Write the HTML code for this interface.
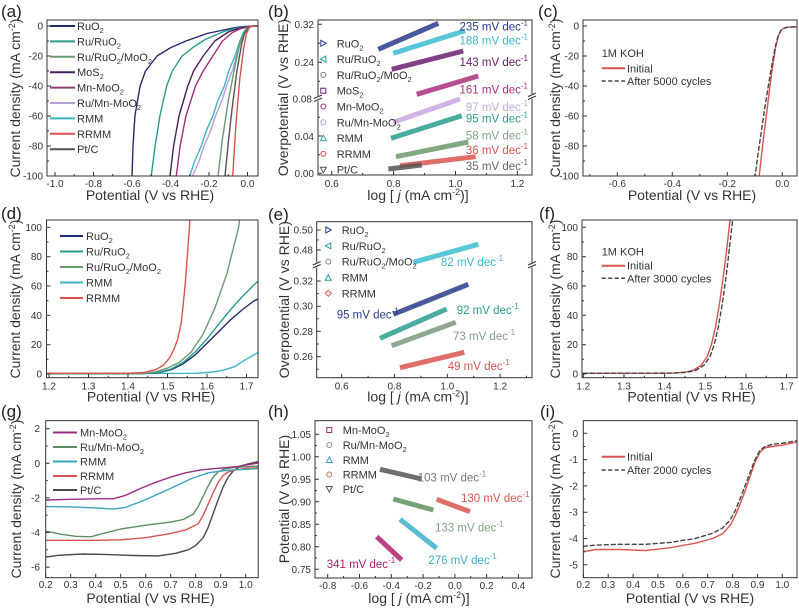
<!DOCTYPE html>
<html><head><meta charset="utf-8"><style>
html,body{margin:0;padding:0;background:#fff;}
svg{display:block;font-family:"Liberation Sans",Arial,sans-serif;}
.tk{font-size:10px;fill:#333;}
.ti{font-size:14px;fill:#333;}
.lg{font-size:11px;fill:#333;}
.pl{font-size:17px;fill:#222;}
.an{font-size:11.5px;}
.fr{fill:none;stroke:#333;stroke-width:1;}
.tks{fill:none;stroke:#333;stroke-width:1;}
.c{fill:none;stroke-width:1.4;stroke-linejoin:round;stroke-linecap:round;}
.m{fill:none;stroke-width:5;stroke-linecap:butt;opacity:0.85;}
</style></head><body>
<svg width="799" height="609" viewBox="0 0 799 609" xmlns="http://www.w3.org/2000/svg">
<defs>
<clipPath id="ca"><rect x="47" y="20" width="211" height="156"/></clipPath>
<clipPath id="cc"><rect x="583" y="20" width="214" height="156"/></clipPath>
<clipPath id="cd"><rect x="46.5" y="220" width="211.5" height="157.7"/></clipPath>
<clipPath id="cf"><rect x="582" y="220" width="215" height="157.7"/></clipPath>
<clipPath id="cg"><rect x="45.7" y="420.7" width="212.5" height="157"/></clipPath>
<clipPath id="ci"><rect x="583.3" y="420.7" width="213.7" height="157"/></clipPath>
</defs>
<rect width="799" height="609" fill="#fff"/>

<!-- ================= (a) ================= -->
<text class="pl" x="1" y="17">(a)</text>
<g clip-path="url(#ca)">
<polyline class="c" stroke="#b89fd8" stroke-width="1.7" points="258,26 253.3,26 247.5,27.5 244.5,32 241,41 236.5,56 232.3,71 226.5,86 221.8,101 215.5,116 210.6,131 204,146 199.1,161 192.5,176"/>
<polyline class="c" stroke="#3db3c4" stroke-width="1.7" points="258,26 253.3,26 247.5,27.5 243.65,32 239.8,41 235,56 228.7,71 224.4,86 217.7,101 212.85,116 206.2,131 201.3,146 194.7,161 189.75,176"/>
<polyline class="c" stroke="#1f2d6b" points="258,26 257.1,26 247.5,26.3 237.9,27.2 228.3,29 207.1,33.5 185.9,41 170.5,47.75 157,56 145.5,71 140.1,86 134.9,116 133,146 132,176 131.8,180"/>
<polyline class="c" stroke="#2a9a8c" points="258,26 253.3,26 247.5,26.75 236,28.25 224.4,31.25 205.2,39.5 193.6,47 182.1,56 172.4,71 166.65,86 159.9,116 155.1,146 151.25,176 151,180"/>
<polyline class="c" stroke="#4a1d5c" points="258,26 253.3,26 247.5,26.75 237.9,28.7 228.25,32 214.8,41 203.2,56 193.6,71 187.8,86 179,116 173.6,146 170,176 169.8,180"/>
<polyline class="c" stroke="#a0307c" points="258,26 253.3,26 247.5,27.05 239.8,29 232.1,32.75 222.5,41 212.85,56 203.2,71 195.5,86 185.9,116 180.1,146 176.3,176 176,180"/>
<polyline class="c" stroke="#6b9a6e" points="258,26 253.3,26 247.5,27.5 243.65,33.5 239.8,44 234,71 228.25,101 222.5,138.5 218,176 217.5,180"/>
<polyline class="c" stroke="#555555" points="258,26 253.3,26 248.5,27.5 244.6,33.5 241.7,44 236.9,71 232.1,108.5 228.25,143 225,176 224.7,180"/>
<polyline class="c" stroke="#d9534f" points="258,26 253.3,26 249.4,27.5 246.5,33.5 243.65,48.5 239.8,78.5 236,123.5 232.7,176 232.5,180"/>
</g>
<rect class="fr" x="47" y="20" width="211" height="156"/>
<path class="tks" d="M55 176v-4M93.5 176v-4M132 176v-4M170.5 176v-4M209 176v-4M247.5 176v-4M74.25 176v-2M112.75 176v-2M151.25 176v-2M189.75 176v-2M228.25 176v-2M47 26h4M47 56h4M47 86h4M47 116h4M47 146h4M47 41h2M47 71h2M47 101h2M47 131h2M47 161h2"/>
<g class="tk" text-anchor="middle">
<text x="55" y="187">-1.0</text><text x="93.5" y="187">-0.8</text><text x="132" y="187">-0.6</text><text x="170.5" y="187">-0.4</text><text x="209" y="187">-0.2</text><text x="247.5" y="187">0.0</text>
</g>
<g class="tk" text-anchor="end">
<text x="43" y="29.5">0</text><text x="43" y="59.5">-20</text><text x="43" y="89.5">-40</text><text x="43" y="119.5">-60</text><text x="43" y="149.5">-80</text><text x="43" y="179.5">-100</text>
</g>
<text class="ti" text-anchor="middle" x="150" y="200">Potential (V vs RHE)</text>
<text class="ti" text-anchor="middle" transform="translate(20,98) rotate(-90)">Current density (mA cm<tspan dy="-5" font-size="9">-2</tspan><tspan dy="5">)</tspan></text>
<g stroke-width="2">
<line x1="50" y1="26" x2="75" y2="26" stroke="#1f2d6b"/>
<line x1="50" y1="41.4" x2="75" y2="41.4" stroke="#2a9a8c"/>
<line x1="50" y1="56.8" x2="75" y2="56.8" stroke="#6b9a6e"/>
<line x1="50" y1="72.2" x2="75" y2="72.2" stroke="#4a1d5c"/>
<line x1="50" y1="87.6" x2="75" y2="87.6" stroke="#8e3a73"/>
<line x1="50" y1="103" x2="75" y2="103" stroke="#b89fd8"/>
<line x1="50" y1="118.4" x2="75" y2="118.4" stroke="#3db3c4"/>
<line x1="50" y1="133.8" x2="75" y2="133.8" stroke="#d9534f"/>
<line x1="50" y1="149.2" x2="75" y2="149.2" stroke="#555555"/>
</g>
<g class="lg">
<text x="77" y="30">RuO<tspan dy="3" font-size="7.5">2</tspan></text>
<text x="77" y="45.4">Ru/RuO<tspan dy="3" font-size="7.5">2</tspan></text>
<text x="77" y="60.8">Ru/RuO<tspan dy="3" font-size="7.5">2</tspan><tspan dy="-3">/MoO</tspan><tspan dy="3" font-size="7.5">2</tspan></text>
<text x="77" y="76.2">MoS<tspan dy="3" font-size="7.5">2</tspan></text>
<text x="77" y="91.6">Mn-MoO<tspan dy="3" font-size="7.5">2</tspan></text>
<text x="77" y="107">Ru/Mn-MoO<tspan dy="3" font-size="7.5">2</tspan></text>
<text x="77" y="122.4">RMM</text>
<text x="77" y="137.8">RRMM</text>
<text x="77" y="153.2">Pt/C</text>
</g>

<!-- ================= (b) ================= -->
<text class="pl" x="268" y="17">(b)</text>
<g>
<line class="m" stroke="#2a3c8a" x1="378.3" y1="49.3" x2="438.3" y2="23.3"/>
<line class="m" stroke="#3cbcd0" x1="393.3" y1="53.3" x2="465" y2="30.7"/>
<line class="m" stroke="#6a2070" x1="391.7" y1="69.3" x2="463.3" y2="51"/>
<line class="m" stroke="#a8307e" x1="416.7" y1="94.3" x2="478.3" y2="76"/>
<line class="m" stroke="#c9a6e0" x1="393.3" y1="122.3" x2="460" y2="99"/>
<line class="m" stroke="#2a9d8f" x1="391" y1="138.3" x2="461.7" y2="115.7"/>
<line class="m" stroke="#6b9a6b" x1="396" y1="156.7" x2="468.3" y2="142"/>
<line class="m" stroke="#d9544f" x1="400" y1="165.7" x2="475.7" y2="156.7"/>
<line class="m" stroke="#555" x1="388.3" y1="169" x2="421.7" y2="165"/>
</g>
<rect class="fr" x="318" y="20" width="214" height="155"/>
<rect x="314" y="96" width="8" height="5" fill="#fff"/>
<rect x="528" y="94" width="8" height="5" fill="#fff"/>
<path class="tks" d="M314 98.5L322 95M314 101.5L322 98M528 96.5L536 93M528 99.5L536 96"/>
<path class="tks" d="M331.7 175v-4M393.6 175v-4M455.5 175v-4M517.4 175v-4M362.65 175v-2M424.55 175v-2M486.45 175v-2M318 24.3h4M318 62.3h4M318 136h4M318 173.3h4M318 43.3h2M318 81.3h2M318 117.3h2M318 154.7h2"/>
<g class="tk" text-anchor="middle">
<text x="331.7" y="187">0.6</text><text x="393.6" y="187">0.8</text><text x="455.5" y="187">1.0</text><text x="517.4" y="187">1.2</text>
</g>
<g class="tk" text-anchor="end">
<text x="314" y="28">0.32</text><text x="314" y="66">0.24</text><text x="312" y="102.5">0.08</text><text x="314" y="140">0.04</text><text x="314" y="177">0.00</text>
</g>
<text class="ti" text-anchor="middle" x="418" y="200">log [ <tspan font-style="italic">j</tspan> (mA cm<tspan dy="-5" font-size="9">-2</tspan><tspan dy="5">)]</tspan></text>
<text class="ti" text-anchor="middle" transform="translate(288,97.5) rotate(-90)">Overpotential (V vs RHE)</text>
<g fill="none" stroke-width="1">
<polygon points="320.8,40.3 326.3,43.3 320.8,46.3" stroke="#2a3c8a"/>
<polygon points="325.8,56.1 320.3,59.1 325.8,62.1" stroke="#2a9d8f"/>
<circle cx="323.3" cy="74.9" r="2.5" stroke="#777"/>
<rect x="320.8" y="88.2" width="5" height="5" stroke="#6a2070"/>
<circle cx="323.3" cy="106.5" r="2.5" stroke="#a8307e"/>
<circle cx="323.3" cy="122.3" r="2.5" stroke="#b8a0d8"/>
<polygon points="323.3,135.1 326.3,140.6 320.3,140.6" stroke="#3aaab8"/>
<circle cx="323.3" cy="153.9" r="2.5" stroke="#d9544f"/>
<polygon points="323.3,172.7 326.3,167.2 320.3,167.2" stroke="#555"/>
</g>
<g class="lg">
<text x="336.7" y="47.3">RuO<tspan dy="3" font-size="7.5">2</tspan></text>
<text x="336.7" y="63.1">Ru/RuO<tspan dy="3" font-size="7.5">2</tspan></text>
<text x="336.7" y="78.9">Ru/RuO<tspan dy="3" font-size="7.5">2</tspan><tspan dy="-3">/MoO</tspan><tspan dy="3" font-size="7.5">2</tspan></text>
<text x="336.7" y="94.7">MoS<tspan dy="3" font-size="7.5">2</tspan></text>
<text x="336.7" y="110.5">Mn-MoO<tspan dy="3" font-size="7.5">2</tspan></text>
<text x="336.7" y="126.3">Ru/Mn-MoO<tspan dy="3" font-size="7.5">2</tspan></text>
<text x="336.7" y="142.1">RMM</text>
<text x="336.7" y="157.9">RRMM</text>
<text x="336.7" y="173.7">Pt/C</text>
</g>
<g class="an" text-anchor="end">
<text x="528" y="30.5" fill="#2a3c8a">235 mV dec<tspan dy="-5" font-size="8">-1</tspan></text>
<text x="528" y="44.5" fill="#3cb8cc">188 mV dec<tspan dy="-5" font-size="8">-1</tspan></text>
<text x="528" y="66" fill="#6a2070">143 mV dec<tspan dy="-5" font-size="8">-1</tspan></text>
<text x="528" y="93.5" fill="#a8307e">161 mV dec<tspan dy="-5" font-size="8">-1</tspan></text>
<text x="528" y="111" fill="#c4a8e0">97 mV dec<tspan dy="-5" font-size="8">-1</tspan></text>
<text x="528" y="122.5" fill="#2a9d8f">95 mV dec<tspan dy="-5" font-size="8">-1</tspan></text>
<text x="528" y="139.5" fill="#849e84">58 mV dec<tspan dy="-5" font-size="8">-1</tspan></text>
<text x="528" y="154" fill="#d9544f">36 mV dec<tspan dy="-5" font-size="8">-1</tspan></text>
<text x="528" y="170" fill="#666">35 mV dec<tspan dy="-5" font-size="8">-1</tspan></text>
</g>

<!-- ================= (c) ================= -->
<text class="pl" x="538" y="17">(c)</text>
<g clip-path="url(#cc)">
<polyline class="c" stroke="#d9534f" stroke-width="1.8" points="759.2,178 759.2,176 761.7,153.5 764.4,131 767.2,108.5 769.9,86 772.7,66.5 775.4,48.5 778.2,36.5 780.9,30.5 783.7,28.25 787.8,27.2 796.9,26.75"/>
<polyline class="c" stroke="#444" stroke-dasharray="4,3" points="755.1,178 755.1,176 758.1,153.5 761.4,131 764.7,108.5 768.3,86 771.6,66.5 774.9,48.5 777.9,36.5 780.9,30.5 783.7,28.25 787.8,27.2 796.9,26.75"/>
</g>
<rect class="fr" x="583" y="20" width="214" height="156"/>
<path class="tks" d="M617.3 176v-4M672.3 176v-4M727.3 176v-4M782.3 176v-4M589.8 176v-2M644.8 176v-2M699.8 176v-2M754.8 176v-2M583 26h4M583 56h4M583 86h4M583 116h4M583 146h4M583 41h2M583 71h2M583 101h2M583 131h2M583 161h2"/>
<g class="tk" text-anchor="middle">
<text x="617.3" y="187">-0.6</text><text x="672.3" y="187">-0.4</text><text x="727.3" y="187">-0.2</text><text x="782.3" y="187">0.0</text>
</g>
<g class="tk" text-anchor="end">
<text x="579" y="29.5">0</text><text x="579" y="59.5">-20</text><text x="579" y="89.5">-40</text><text x="579" y="119.5">-60</text><text x="579" y="149.5">-80</text><text x="579" y="179.5">-100</text>
</g>
<text class="ti" text-anchor="middle" x="692" y="200">Potential (V vs RHE)</text>
<text class="ti" text-anchor="middle" transform="translate(560,98) rotate(-90)">Current density (mA cm<tspan dy="-5" font-size="9">-2</tspan><tspan dy="5">)</tspan></text>
<text class="lg" x="601.7" y="57">1M KOH</text>
<line x1="601.7" y1="68.3" x2="625" y2="68.3" stroke="#d9534f" stroke-width="2"/>
<text class="lg" x="627" y="72.3">Initial</text>
<line x1="601.7" y1="81" x2="625" y2="81" stroke="#444" stroke-width="1.5" stroke-dasharray="4,2.5"/>
<text class="lg" x="627" y="85">After 5000 cycles</text>

<!-- ================= (d) ================= -->
<text class="pl" x="1" y="219">(d)</text>
<g clip-path="url(#cd)">
<polyline class="c" stroke="#3db3c4" points="45,373.6 195.15,373.3 210.95,372.2 222.8,370.3 234.65,366.7 242.55,361.5 257.6,352.7"/>
<polyline class="c" stroke="#1f2d6b" stroke-width="1.6" points="45,373.7 143.8,373.6 159.6,372.5 171.45,369.6 183.3,363.7 195.15,354.9 207,343.2 218.85,331.5 230.7,319.7 242.55,309.5 254.4,300.6 257.5,299.3"/>
<polyline class="c" stroke="#2a9a8c" stroke-width="1.6" points="45,373.7 143.8,373.6 159.6,372.2 171.45,368.9 183.3,362.3 195.15,352 207,338.8 218.85,324.1 230.7,309.5 242.55,296.2 254.4,284.5 257.6,281.6"/>
<polyline class="c" stroke="#6b9a6e" points="45,373.6 143.8,373.3 155.65,371.8 167.5,368.1 179.35,362.3 191.2,352 203.05,334.4 214.9,308 226.75,274.2 238.6,227.3 239.8,218"/>
<polyline class="c" stroke="#d9534f" stroke-width="1.6" points="45,373.3 128,373.3 143.8,372.5 155.65,369.6 163.55,365.2 169.5,357.9 173.4,350.5 177.4,340.3 181.3,322.7 183.3,303.6 185.3,283 187.3,256.6 189.2,230.2 190,218"/>
</g>
<rect class="fr" x="46.5" y="220" width="211.5" height="157.7"/>
<path class="tks" d="M49 377.7v-4M88.5 377.7v-4M128 377.7v-4M167.5 377.7v-4M207 377.7v-4M246.5 377.7v-4M68.75 377.7v-2M108.25 377.7v-2M147.75 377.7v-2M187.25 377.7v-2M226.75 377.7v-2M46.5 374h4M46.5 344.7h4M46.5 315.3h4M46.5 286h4M46.5 256.7h4M46.5 227.3h4M46.5 359.3h2M46.5 330h2M46.5 300.7h2M46.5 271.3h2M46.5 242h2"/>
<g class="tk" text-anchor="middle">
<text x="49" y="389.5">1.2</text><text x="88.5" y="389.5">1.3</text><text x="128" y="389.5">1.4</text><text x="167.5" y="389.5">1.5</text><text x="207" y="389.5">1.6</text><text x="246.5" y="389.5">1.7</text>
</g>
<g class="tk" text-anchor="end">
<text x="42" y="377.5">0</text><text x="42" y="348.2">20</text><text x="42" y="318.8">40</text><text x="42" y="289.5">60</text><text x="42" y="260.2">80</text><text x="42" y="230.8">100</text>
</g>
<text class="ti" text-anchor="middle" x="151" y="401.5">Potential (V vs RHE)</text>
<text class="ti" text-anchor="middle" transform="translate(20,299) rotate(-90)">Current density (mA cm<tspan dy="-5" font-size="9">-2</tspan><tspan dy="5">)</tspan></text>
<g stroke-width="2">
<line x1="60" y1="236" x2="83" y2="236" stroke="#1f2d6b"/>
<line x1="60" y1="251.5" x2="83" y2="251.5" stroke="#2a9a8c"/>
<line x1="60" y1="267" x2="83" y2="267" stroke="#6b9a6e"/>
<line x1="60" y1="282.5" x2="83" y2="282.5" stroke="#3db3c4"/>
<line x1="60" y1="298" x2="83" y2="298" stroke="#d9534f"/>
</g>
<g class="lg">
<text x="86" y="240">RuO<tspan dy="3" font-size="7.5">2</tspan></text>
<text x="86" y="255.5">Ru/RuO<tspan dy="3" font-size="7.5">2</tspan></text>
<text x="86" y="271">Ru/RuO<tspan dy="3" font-size="7.5">2</tspan><tspan dy="-3">/MoO</tspan><tspan dy="3" font-size="7.5">2</tspan></text>
<text x="86" y="286.5">RMM</text>
<text x="86" y="302">RRMM</text>
</g>

<!-- ================= (e) ================= -->
<text class="pl" x="268" y="220">(e)</text>
<g>
<line class="m" stroke="#3cbcd0" x1="413.3" y1="262.3" x2="478.3" y2="244.3"/>
<line class="m" stroke="#2a3c8a" x1="393.3" y1="314.3" x2="468.3" y2="284.3"/>
<line class="m" stroke="#2a9d8f" x1="380" y1="338.3" x2="446.7" y2="309"/>
<line class="m" stroke="#7a9a7a" x1="391.7" y1="345.7" x2="455.7" y2="322.3"/>
<line class="m" stroke="#d9544f" x1="400" y1="367.7" x2="464.3" y2="352.3"/>
</g>
<rect class="fr" x="316.7" y="221.7" width="215.3" height="156"/>
<rect x="312.7" y="262.5" width="8" height="5" fill="#fff"/>
<rect x="528" y="262.5" width="8" height="5" fill="#fff"/>
<path class="tks" d="M312.7 265L320.7 261.5M312.7 268L320.7 264.5M528 265L536 261.5M528 268L536 264.5"/>
<path class="tks" d="M341.7 377.7v-4M394.5 377.7v-4M447.3 377.7v-4M500.1 377.7v-4M368.1 377.7v-2M420.9 377.7v-2M473.7 377.7v-2M526.5 377.7v-2M316.7 230h4M316.7 250h4M316.7 281h4M316.7 306.2h4M316.7 331.4h4M316.7 356.6h4M316.7 240h2M316.7 293.6h2M316.7 318.8h2M316.7 344h2M316.7 369.2h2"/>
<g class="tk" text-anchor="middle">
<text x="341.7" y="389.5">0.6</text><text x="394.5" y="389.5">0.8</text><text x="447.3" y="389.5">1.0</text><text x="500.1" y="389.5">1.2</text>
</g>
<g class="tk" text-anchor="end">
<text x="313" y="233.5">0.50</text><text x="313" y="253.5">0.48</text><text x="313" y="284.5">0.32</text><text x="313" y="309.7">0.30</text><text x="313" y="334.9">0.28</text><text x="313" y="360.1">0.26</text>
</g>
<text class="ti" text-anchor="middle" x="418" y="401.5">log [ <tspan font-style="italic">j</tspan> (mA cm<tspan dy="-5" font-size="9">-2</tspan><tspan dy="5">)]</tspan></text>
<text class="ti" text-anchor="middle" transform="translate(289,299.7) rotate(-90)">Overpotential (V vs RHE)</text>
<g fill="none" stroke-width="1">
<polygon points="325.8,227 331.3,230 325.8,233" stroke="#2a3c8a"/>
<polygon points="330.8,242.8 325.3,245.8 330.8,248.8" stroke="#2a9d8f"/>
<circle cx="328.3" cy="261.6" r="2.5" stroke="#888"/>
<polygon points="328.3,274.7 331.3,280.2 325.3,280.2" stroke="#2a9d8f"/>
<polygon points="328.3,290.3 331.3,293.3 328.3,296.3 325.3,293.3" stroke="#d9544f"/>
</g>
<g class="lg">
<text x="341.7" y="234">RuO<tspan dy="3" font-size="7.5">2</tspan></text>
<text x="341.7" y="249.8">Ru/RuO<tspan dy="3" font-size="7.5">2</tspan></text>
<text x="341.7" y="265.6">Ru/RuO<tspan dy="3" font-size="7.5">2</tspan><tspan dy="-3">/MoO</tspan><tspan dy="3" font-size="7.5">2</tspan></text>
<text x="341.7" y="281.5">RMM</text>
<text x="341.7" y="297.3">RRMM</text>
</g>
<g class="an">
<text x="441" y="266" fill="#3cb8cc">82 mV dec<tspan dy="-5" font-size="8">-1</tspan></text>
<text x="336.7" y="318.5" fill="#2a3c8a">95 mV dec<tspan dy="-5" font-size="8">-1</tspan></text>
<text x="456.7" y="314" fill="#2a9d8f">92 mV dec<tspan dy="-5" font-size="8">-1</tspan></text>
<text x="453" y="340" fill="#849e84">73 mV dec<tspan dy="-5" font-size="8">-1</tspan></text>
<text x="447.7" y="370" fill="#d9544f">49 mV dec<tspan dy="-5" font-size="8">-1</tspan></text>
</g>

<!-- ================= (f) ================= -->
<text class="pl" x="539" y="219">(f)</text>
<g clip-path="url(#cf)">
<polyline class="c" stroke="#d9534f" stroke-width="1.8" points="583.3,373.3 672.8,373.1 685,372.2 693.1,370.3 701.2,365.2 707.3,356.4 711.4,344.7 715.5,327.1 719.5,303.6 723.6,274.2 726.9,247.8 729.7,222.9 730.5,217"/>
<polyline class="c" stroke="#444" stroke-dasharray="4,3" points="583.3,373.3 672.8,373.1 686,372.4 695.5,370.5 704,365.2 710.1,356.4 714.2,344.7 718.3,327.1 722.3,303.6 726.4,274.2 729.5,247.8 732.3,222.9 733.1,217"/>
</g>
<rect class="fr" x="582" y="220" width="215" height="157.7"/>
<path class="tks" d="M583.3 377.7v-4M624 377.7v-4M664.6 377.7v-4M705.3 377.7v-4M746 377.7v-4M786.6 377.7v-4M603.6 377.7v-2M644.3 377.7v-2M685 377.7v-2M725.6 377.7v-2M766.3 377.7v-2M582 374h4M582 344.7h4M582 315.3h4M582 286h4M582 256.7h4M582 227.3h4M582 359.3h2M582 330h2M582 300.7h2M582 271.3h2M582 242h2"/>
<g class="tk" text-anchor="middle">
<text x="583.3" y="389.5">1.2</text><text x="624" y="389.5">1.3</text><text x="664.6" y="389.5">1.4</text><text x="705.3" y="389.5">1.5</text><text x="746" y="389.5">1.6</text><text x="786.6" y="389.5">1.7</text>
</g>
<g class="tk" text-anchor="end">
<text x="578" y="377.5">0</text><text x="578" y="348.2">20</text><text x="578" y="318.8">40</text><text x="578" y="289.5">60</text><text x="578" y="260.2">80</text><text x="578" y="230.8">100</text>
</g>
<text class="ti" text-anchor="middle" x="691.5" y="401.5">Potential (V vs RHE)</text>
<text class="ti" text-anchor="middle" transform="translate(560,299) rotate(-90)">Current density (mA cm<tspan dy="-5" font-size="9">-2</tspan><tspan dy="5">)</tspan></text>
<text class="lg" x="601.7" y="255.5">1M KOH</text>
<line x1="601.7" y1="265.7" x2="625" y2="265.7" stroke="#d9534f" stroke-width="2"/>
<text class="lg" x="627" y="269.7">Initial</text>
<line x1="601.7" y1="278.3" x2="625" y2="278.3" stroke="#444" stroke-width="1.5" stroke-dasharray="4,2.5"/>
<text class="lg" x="627" y="282.3">After 3000 cycles</text>

<!-- ================= (g) ================= -->
<text class="pl" x="1" y="417">(g)</text>
<g clip-path="url(#cg)">
<polyline class="c" stroke="#4a4a4a" points="45.7,557.1 58.2,555.3 83.2,554 108.2,554.6 133.2,555.5 158.2,555.9 175.7,553.3 188.2,549.8 195.7,545.5 203.2,537.7 208.2,527.3 213.2,513.5 218.2,499.6 223.2,486.7 228.2,477.1 233.2,471.1 240.7,465.9 250.7,463.3 258.2,461.6"/>
<polyline class="c" stroke="#d9534f" points="45.7,540.3 70.7,540.3 95.7,540.3 120.7,539.8 145.7,537.7 170.7,533.4 185.7,529.9 198.2,523.9 203.2,515.2 208.2,504 213.2,492.7 218.2,482.3 223.2,475.4 228.2,472 235.7,469.9 245.7,468.5 258.2,467.6"/>
<polyline class="c" stroke="#5e8f5e" points="45.7,531.1 60.7,534.2 75.7,536.3 90.7,536.8 103.2,533.4 120.7,529 145.7,525.2 170.7,522.1 183.2,519.5 193.2,514.3 198.2,506.6 203.2,496.2 208.2,485.8 213.2,477.1 218.2,472 223.2,469.4 233.2,467.6 245.7,466.8 258.2,465.9"/>
<polyline class="c" stroke="#3ca4bf" points="45.7,506.55 70.7,506.9 95.7,507.9 113.2,509.1 125.7,507.4 145.7,499.6 170.7,488.4 190.7,478.9 208.2,472.8 220.7,471.1 233.2,469.9 245.7,469.4 258.2,468.5"/>
<polyline class="c" stroke="#9a2d86" stroke-width="1.6" points="45.7,500 70.7,499.3 95.7,498.8 113.2,498.8 125.7,495.3 140.7,488.4 155.7,482.3 170.7,477.1 185.7,472.8 200.7,469.9 220.7,468.1 238.2,466.4 258.2,463"/>
</g>
<rect class="fr" x="45.7" y="420.7" width="212.5" height="157"/>
<path class="tks" d="M45.7 577.7v-4M70.7 577.7v-4M95.7 577.7v-4M120.7 577.7v-4M145.7 577.7v-4M170.7 577.7v-4M195.7 577.7v-4M220.7 577.7v-4M245.7 577.7v-4M45.7 428.7h4M45.7 463.3h4M45.7 497.9h4M45.7 532.5h4M45.7 567.1h4M45.7 446h2M45.7 480.6h2M45.7 515.2h2M45.7 549.8h2"/>
<g class="tk" text-anchor="middle">
<text x="45.7" y="588">0.2</text><text x="70.7" y="588">0.3</text><text x="95.7" y="588">0.4</text><text x="120.7" y="588">0.5</text><text x="145.7" y="588">0.6</text><text x="170.7" y="588">0.7</text><text x="195.7" y="588">0.8</text><text x="220.7" y="588">0.9</text><text x="245.7" y="588">1.0</text>
</g>
<g class="tk" text-anchor="end">
<text x="40" y="432.2">2</text><text x="40" y="466.8">0</text><text x="40" y="501.4">-2</text><text x="40" y="536">-4</text><text x="40" y="570.6">-6</text>
</g>
<text class="ti" text-anchor="middle" x="150.5" y="603">Potential (V vs RHE)</text>
<text class="ti" text-anchor="middle" transform="translate(21,499) rotate(-90)">Current density (mA cm<tspan dy="-5" font-size="9">-2</tspan><tspan dy="5">)</tspan></text>
<g stroke-width="2">
<line x1="53" y1="432.5" x2="77" y2="432.5" stroke="#9a2d86"/>
<line x1="53" y1="447" x2="77" y2="447" stroke="#5e8f5e"/>
<line x1="53" y1="461.5" x2="77" y2="461.5" stroke="#3ca4bf"/>
<line x1="53" y1="476" x2="77" y2="476" stroke="#d9534f"/>
<line x1="53" y1="490" x2="77" y2="490" stroke="#4a4a4a"/>
</g>
<g class="lg">
<text x="80" y="436.5">Mn-MoO<tspan dy="3" font-size="7.5">2</tspan></text>
<text x="80" y="451">Ru/Mn-MoO<tspan dy="3" font-size="7.5">2</tspan></text>
<text x="80" y="465.5">RMM</text>
<text x="80" y="480">RRMM</text>
<text x="80" y="494">Pt/C</text>
</g>

<!-- ================= (h) ================= -->
<text class="pl" x="268" y="417">(h)</text>
<g>
<line class="m" stroke="#555" x1="380" y1="469.3" x2="421.7" y2="479"/>
<line class="m" stroke="#d9544f" x1="436.7" y1="499.3" x2="470" y2="511.7"/>
<line class="m" stroke="#5e8f5e" x1="393.3" y1="499" x2="433.3" y2="510"/>
<line class="m" stroke="#3cb0c8" x1="400" y1="519.3" x2="436.7" y2="548.3"/>
<line class="m" stroke="#b02070" x1="376.7" y1="536.7" x2="401.7" y2="560"/>
</g>
<rect class="fr" x="315" y="420.7" width="217" height="157.3"/>
<path class="tks" d="M327.7 578v-4M359.5 578v-4M391.3 578v-4M423.1 578v-4M454.9 578v-4M486.6 578v-4M518.4 578v-4M343.6 578v-2M375.4 578v-2M407.2 578v-2M439 578v-2M470.8 578v-2M502.5 578v-2M315 434.3h4M315 456.8h4M315 479.3h4M315 501.8h4M315 524.3h4M315 546.8h4M315 569.3h4M315 445.6h2M315 468h2M315 490.6h2M315 513h2M315 535.6h2M315 558h2"/>
<g class="tk" text-anchor="middle">
<text x="327.7" y="589">-0.8</text><text x="359.5" y="589">-0.6</text><text x="391.3" y="589">-0.4</text><text x="423.1" y="589">-0.2</text><text x="454.9" y="589">0.0</text><text x="486.6" y="589">0.2</text><text x="518.4" y="589">0.4</text>
</g>
<g class="tk" text-anchor="end">
<text x="311" y="437.8">1.05</text><text x="311" y="460.3">1.00</text><text x="311" y="482.8">0.95</text><text x="311" y="505.3">0.90</text><text x="311" y="527.8">0.85</text><text x="311" y="550.3">0.80</text><text x="311" y="572.8">0.75</text>
</g>
<text class="ti" text-anchor="middle" x="419" y="603">log [ <tspan font-style="italic">j</tspan> (mA cm<tspan dy="-5" font-size="9">-2</tspan><tspan dy="5">)]</tspan></text>
<text class="ti" text-anchor="middle" transform="translate(289,499) rotate(-90)">Potential (V vs RHE)</text>
<g fill="none" stroke-width="1">
<rect x="326.8" y="427.5" width="5" height="5" stroke="#a03060"/>
<circle cx="329.3" cy="445" r="2.5" stroke="#888"/>
<polygon points="329.3,457 332.3,462.5 326.3,462.5" stroke="#3aa0c0"/>
<circle cx="329.3" cy="474.5" r="2.5" stroke="#c8704f"/>
<polygon points="329.3,492 332.3,486.5 326.3,486.5" stroke="#555"/>
</g>
<g class="lg">
<text x="342.7" y="434">Mn-MoO<tspan dy="3" font-size="7.5">2</tspan></text>
<text x="342.7" y="449">Ru/Mn-MoO<tspan dy="3" font-size="7.5">2</tspan></text>
<text x="342.7" y="464">RMM</text>
<text x="342.7" y="478.5">RRMM</text>
<text x="342.7" y="493">Pt/C</text>
</g>
<g class="an">
<text x="417.7" y="481.5" fill="#777">103 mV dec<tspan dy="-5" font-size="8">-1</tspan></text>
<text x="461" y="502" fill="#d9544f">130 mV dec<tspan dy="-5" font-size="8">-1</tspan></text>
<text x="435" y="531.5" fill="#849e84">133 mV dec<tspan dy="-5" font-size="8">-1</tspan></text>
<text x="428.3" y="564" fill="#3cb0c8">276 mV dec<tspan dy="-5" font-size="8">-1</tspan></text>
<text x="326.7" y="568" fill="#a8206a">341 mV dec<tspan dy="-5" font-size="8">-1</tspan></text>
</g>

<!-- ================= (i) ================= -->
<text class="pl" x="540" y="417">(i)</text>
<g clip-path="url(#ci)">
<polyline class="c" stroke="#d9534f" stroke-width="1.8" points="583.3,551.7 595.7,549.5 620.6,549.5 645.5,550.6 670.4,547.7 695.3,543.2 712.7,538.5 722.6,533.8 730.1,525.4 735.1,516.1 740,504.3 745,491.2 750,476.7 755,462.2 760,452.2 764.9,447.8 772.4,446.5 782.3,445.1 794.8,442.5 797.3,442"/>
<polyline class="c" stroke="#444" stroke-dasharray="4,3" points="583.3,546.4 595.7,545.1 620.6,544.3 645.5,544.3 670.4,542.4 695.3,538.5 712.7,533.2 722.6,528 730.1,520.1 735.1,510.9 740,499.1 745,485.9 750,472.8 755,459.6 760,450.4 764.9,446.5 772.4,444.3 782.3,443.3 797.3,440.7"/>
</g>
<rect class="fr" x="583.3" y="420.7" width="213.7" height="157"/>
<path class="tks" d="M583.3 577.7v-4M608.2 577.7v-4M633.1 577.7v-4M657.9 577.7v-4M682.8 577.7v-4M707.7 577.7v-4M732.6 577.7v-4M757.5 577.7v-4M782.3 577.7v-4M583.3 433.3h4M583.3 459.6h4M583.3 485.9h4M583.3 512.2h4M583.3 538.5h4M583.3 564.8h4M583.3 446.5h2M583.3 472.8h2M583.3 499h2M583.3 525.4h2M583.3 551.7h2"/>
<g class="tk" text-anchor="middle">
<text x="583.3" y="588">0.2</text><text x="608.2" y="588">0.3</text><text x="633.1" y="588">0.4</text><text x="657.9" y="588">0.5</text><text x="682.8" y="588">0.6</text><text x="707.7" y="588">0.7</text><text x="732.6" y="588">0.8</text><text x="757.5" y="588">0.9</text><text x="782.3" y="588">1.0</text>
</g>
<g class="tk" text-anchor="end">
<text x="578" y="436.8">0</text><text x="578" y="463.1">-1</text><text x="578" y="489.4">-2</text><text x="578" y="515.7">-3</text><text x="578" y="542">-4</text><text x="578" y="568.3">-5</text>
</g>
<text class="ti" text-anchor="middle" x="690" y="603">Potential (V vs RHE)</text>
<text class="ti" text-anchor="middle" transform="translate(560,499) rotate(-90)">Current density (mA cm<tspan dy="-5" font-size="9">-2</tspan><tspan dy="5">)</tspan></text>
<line x1="601.7" y1="456.7" x2="625" y2="456.7" stroke="#d9534f" stroke-width="2"/>
<text class="lg" x="627" y="460.7">Initial</text>
<line x1="601.7" y1="470" x2="625" y2="470" stroke="#444" stroke-width="1.5" stroke-dasharray="4,2.5"/>
<text class="lg" x="627" y="474">After 2000 cycles</text>
</svg>
</body></html>
